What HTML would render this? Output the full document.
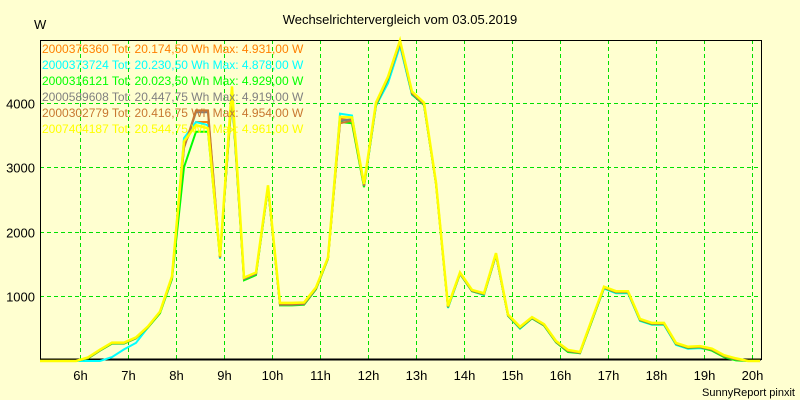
<!DOCTYPE html>
<html><head><meta charset="utf-8"><style>
body{margin:0;background:#ffffd0;}
svg{display:block;font-family:"Liberation Sans",sans-serif;}
</style></head><body>
<svg id="chart" width="800" height="400">
<rect width="800" height="400" fill="#ffffd0"/>
<text x="400" y="24" text-anchor="middle" font-size="13" fill="#000">Wechselrichtervergleich vom 03.05.2019</text>
<text x="34" y="29" font-size="13" fill="#000">W</text>
<g id="grid"></g><g id="axes"></g><g id="series"></g><g id="legend"></g>
<text x="795" y="396" text-anchor="end" font-size="11" fill="#000">SunnyReport pinxit</text>
</svg>
<script>
const startHour = 5 + 10/60;
const stepHours = 0.25;
const xTicks = [6,7,8,9,10,11,12,13,14,15,16,17,18,19,20];
const xTickLabels = ["6h","7h","8h","9h","10h","11h","12h","13h","14h","15h","16h","17h","18h","19h","20h"];
const yTicks = [1000,2000,3000,4000];
const yTickLabels = ["1000","2000","3000","4000"];
const seriesNames = ["2000376360","2000373724","2000316121","2000589608","2000302779","2007404187"];
const seriesLabels = [
 "2000376360 Tot: 20.174,50 Wh Max: 4.931,00 W",
 "2000373724 Tot: 20.230,50 Wh Max: 4.878,00 W",
 "2000316121 Tot: 20.023,50 Wh Max: 4.929,00 W",
 "2000589608 Tot: 20.447,75 Wh Max: 4.919,00 W",
 "2000302779 Tot: 20.416,75 Wh Max: 4.954,00 W",
 "2007404187 Tot: 20.544,75 Wh Max: 4.961,00 W"];
const seriesColors = ["#ff8000","#00ffff","#00ff00","#808080","#c87830","#ffff00"];
const s1 = [0,0,0,0,50,170,280,280,360,530,760,1300,3350,3700,3700,1600,4200,1280,1360,2700,880,880,890,1130,1590,3750,3720,2720,3980,4380,4931,4150,3980,2750,840,1360,1090,1040,1650,710,520,670,560,300,160,130,640,1140,1070,1070,640,580,580,270,210,220,180,80,30,0,0];
const s2 = [0,0,0,0,0,0,60,180,280,520,750,1280,3450,3700,3650,1580,4150,1270,1350,2680,880,880,890,1130,1600,3830,3800,2700,3950,4300,4878,4120,3970,2750,820,1350,1080,1020,1640,700,500,660,550,290,150,120,630,1120,1050,1050,620,560,560,250,190,200,170,70,20,0,0];
const s3 = [0,0,0,0,40,160,270,270,350,520,740,1270,3000,3550,3550,1600,4100,1250,1330,2680,860,860,870,1110,1580,3700,3680,2690,3960,4360,4929,4130,3960,2740,830,1350,1080,1030,1640,700,510,660,550,290,140,120,620,1130,1060,1060,630,570,570,260,200,210,160,60,10,0,0];
const s4 = [0,0,0,0,45,165,275,275,355,525,755,1290,3300,3850,3850,1600,4150,1270,1350,2690,870,870,880,1120,1590,3720,3740,2710,3970,4370,4919,4140,3970,2750,835,1355,1085,1035,1645,705,515,665,555,295,155,125,635,1135,1065,1065,635,575,575,265,205,215,175,75,25,0,0];
const s5 = [0,0,0,0,50,170,280,280,360,530,760,1300,3300,3880,3880,1600,4150,1280,1360,2700,880,880,890,1130,1590,3680,3720,2720,3980,4390,4954,4150,3980,2750,840,1360,1090,1040,1650,710,520,670,560,300,160,130,640,1140,1070,1070,640,580,580,270,210,220,180,80,30,0,0];
const s6 = [0,0,0,0,55,175,285,285,365,535,765,1310,3400,3650,3600,1620,4250,1290,1370,2720,900,900,905,1140,1600,3780,3770,2740,4000,4400,4961,4170,4000,2760,850,1370,1100,1050,1670,720,530,680,570,310,170,140,650,1150,1080,1080,650,590,590,280,220,230,190,90,40,0,0];
const seriesData = [s1,s2,s3,s4,s5,s6];

const X0=40,X1=761,Y0=361,YT=40,PXH=48,PXW=0.0646;
function xScale(h){return 80+(h-6)*PXH;}
function yScale(v){return Y0-v*PXW;}
const NS="http://www.w3.org/2000/svg";
function mk(tag,attrs,parent){const e=document.createElementNS(NS,tag);for(const k in attrs)e.setAttribute(k,attrs[k]);parent.appendChild(e);return e;}
const grid=document.getElementById('grid'),axes=document.getElementById('axes'),ser=document.getElementById('series'),leg=document.getElementById('legend');
const pa=mk('rect',{x:X0+0.5,y:YT+0.5,width:X1-X0,height:359-YT,fill:'none',stroke:'#000','stroke-width':1},axes);


xTicks.forEach((h,i)=>{
 const x=Math.round(xScale(h))+0.5;
 const l=mk('line',{x1:x,x2:x,y1:YT,y2:359,stroke:'#00e000','stroke-dasharray':'4,3'},grid);
 
 
 const t=mk('text',{x:x,y:380,'text-anchor':'middle','font-size':13,fill:'#000'},axes);
 t.textContent=xTickLabels[i];
 
 
});
yTicks.forEach((v,i)=>{
 const y=Math.round(yScale(v))+0.5;
 const l=mk('line',{x1:X0,x2:X1,y1:y,y2:y,stroke:'#00e000','stroke-dasharray':'4,3'},grid);
 
 
 const t=mk('text',{x:35,y:y+5,'text-anchor':'end','font-size':13,fill:'#000'},axes);
 t.textContent=yTickLabels[i];
 
 
});
const ax=mk('line',{x1:X0,x2:X1,y1:359.5,y2:359.5,stroke:'#000','stroke-width':2},axes);


seriesData.forEach((d,si)=>{
 const pts=d.map((v,k)=>xScale(startHour+k*stepHours).toFixed(1)+','+yScale(v).toFixed(1)).join(' ');
 const p=mk('polyline',{points:pts,fill:'none',stroke:seriesColors[si],'stroke-width':si==5?2.5:2,'stroke-linejoin':'miter'},ser);
 
 
});
seriesLabels.forEach((s,i)=>{
 const t=mk('text',{x:42,y:53+i*16,'font-size':12,fill:seriesColors[i]},leg);
 t.textContent=s;
 
 
});
</script>
</body></html>
